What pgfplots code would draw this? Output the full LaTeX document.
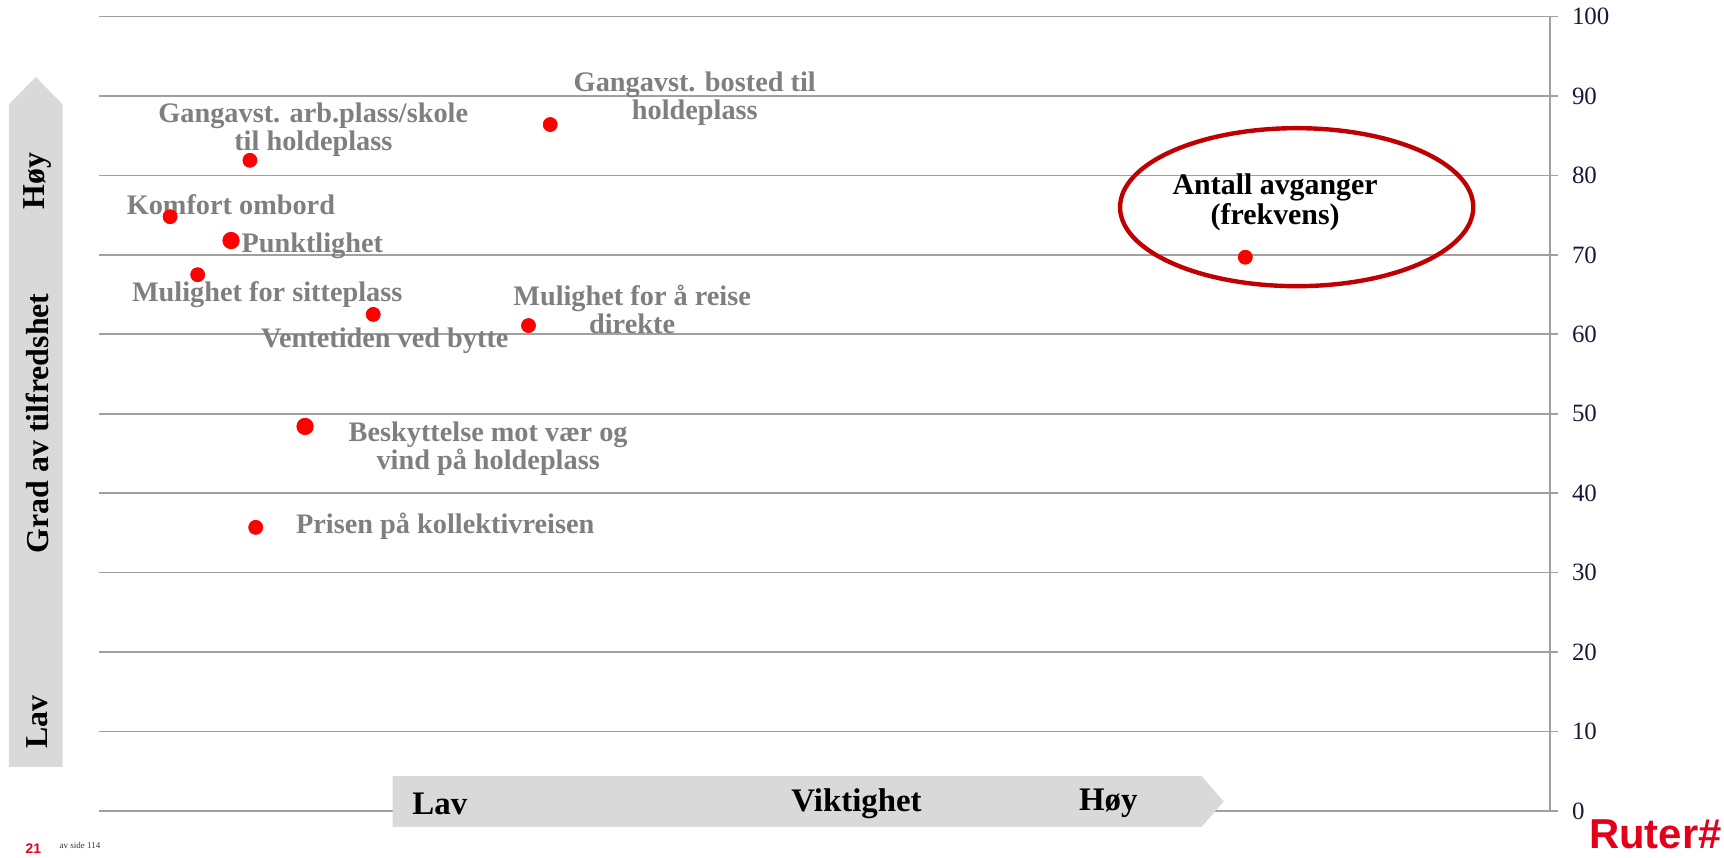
\documentclass[border=0pt]{standalone}
\usepackage{pgfplots}
\pgfplotsset{compat=1.18}
\usepackage{fontspec}
\setmainfont{Liberation Serif}
\newfontfamily\logofont{Liberation Sans}
\definecolor{lblgray}{RGB}{127,127,127}
\definecolor{gridgray}{RGB}{160,160,160}
\definecolor{arrowgray}{RGB}{217,217,217}
\definecolor{ellred}{RGB}{192,0,0}
\definecolor{dotred}{RGB}{255,0,0}
\definecolor{rutered}{RGB}{226,0,26}
\definecolor{ticknavy}{RGB}{25,25,55}
\tikzset{lbl/.style={font=\fontsize{14.2}{14}\selectfont\bfseries, text=lblgray, align=center, inner sep=0pt}}
\begin{document}
\begin{tikzpicture}
\useasboundingbox (0,0) rectangle (862bp,429bp);
% vertical arrow (satisfaction)
\fill[arrowgray] (4.4bp,45.5bp) -- (4.4bp,376.75bp) -- (17.9bp,390.5bp) -- (31.35bp,376.75bp) -- (31.35bp,45.5bp) -- cycle;
\node[rotate=90, font=\fontsize{16}{16}\selectfont\bfseries] at (18.6bp,338.3bp) {Høy};
\node[rotate=90, font=\fontsize{16}{16}\selectfont\bfseries] at (18.6bp,217.35bp) {Grad av tilfredshet};
\node[rotate=90, font=\fontsize{16}{16}\selectfont\bfseries] at (18.6bp,67.8bp) {Lav};
\begin{axis}[
  at={(49.5bp,23.5bp)}, anchor=south west,
  scale only axis, width=725.5bp, height=397.25bp,
  xmin=0, xmax=100, ymin=0, ymax=100,
  axis x line=none,
  axis y line*=right,
  xtick=\empty,
  ytick={0,10,...,100},
  ymajorgrids,
  major grid style={gridgray, line width=0.8bp},
  y axis line style={gridgray, line width=1.3bp, -},
  ytick style={gridgray, line width=0.8bp},
  tick align=outside, major tick length=4bp,
  /pgf/number format/assume math mode=true,
  yticklabel style={font=\fontsize{12.5}{12.5}\selectfont, text=ticknavy, anchor=west, inner sep=0pt, xshift=6.8bp},
  clip=false,
]
\node[lbl] at (axis cs:41.06,89.6) {Gangavst. bosted til\\holdeplass};
\node[lbl] at (axis cs:14.77,85.8) {Gangavst. arb.plass/skole\\til holdeplass};
\node[lbl] at (axis cs:9.09,76.3) {Komfort ombord};
\node[lbl] at (axis cs:14.70,71.2) {Punktlighet};
\node[lbl] at (axis cs:11.59,65.0) {Mulighet for sitteplass};
\node[lbl] at (axis cs:19.70,59.2) {Ventetiden ved bytte};
\node[lbl] at (axis cs:36.74,63.1) {Mulighet for å reise\\direkte};
\node[lbl] at (axis cs:26.82,45.6) {Beskyttelse mot vær og\\vind på holdeplass};
\node[lbl] at (axis cs:23.86,35.8) {Prisen på kollektivreisen};
\node[font=\fontsize{15}{15}\selectfont\bfseries, text=black, align=center, inner sep=0pt] at (axis cs:81.06,76.6) {Antall avganger\\(frekvens)};
\draw[ellred, line width=2.2bp] (axis cs:82.54,76.0) ellipse [x radius=88.3bp, y radius=39.5bp];
\addplot[only marks, mark=*, mark size=3.5bp, mark options={draw=dotred, fill=dotred}] coordinates {
  (31.1,86.4)
  (10.4,81.9)
  (4.9,74.8)
  (6.8,67.5)
  (18.9,62.5)
  (29.6,61.1)
  (10.8,35.7)
  (79.0,69.7)
};
\addplot[only marks, mark=*, mark size=4.1bp, mark options={draw=dotred, fill=dotred}] coordinates {
  (9.1,71.8)
  (14.2,48.4)
};
\end{axis}
% horizontal arrow (importance)
\fill[arrowgray] (196.25bp,15.6bp) -- (196.25bp,40.9bp) -- (600.85bp,40.9bp) -- (611.85bp,28.25bp) -- (600.85bp,15.6bp) -- cycle;
\node[font=\fontsize{16.5}{16.5}\selectfont\bfseries] at (219.9bp,27.15bp) {Lav};
\node[font=\fontsize{16.5}{16.5}\selectfont\bfseries] at (428.25bp,27.15bp) {Viktighet};
\node[font=\fontsize{16.5}{16.5}\selectfont\bfseries] at (554.15bp,27.15bp) {Høy};
% footer
\node[font=\logofont\fontsize{21}{21}\selectfont\bfseries, text=rutered, anchor=base east, inner sep=0pt] at (861bp,4.6bp) {Ruter\#};
\node[font=\logofont\fontsize{7}{7}\selectfont\bfseries, text=rutered, inner sep=0pt] at (16.75bp,4.5bp) {21};
\node[font=\fontsize{4.5}{4.5}\selectfont, text=black!80, inner sep=0pt] at (40bp,6.5bp) {av side 114};
\end{tikzpicture}
\end{document}
